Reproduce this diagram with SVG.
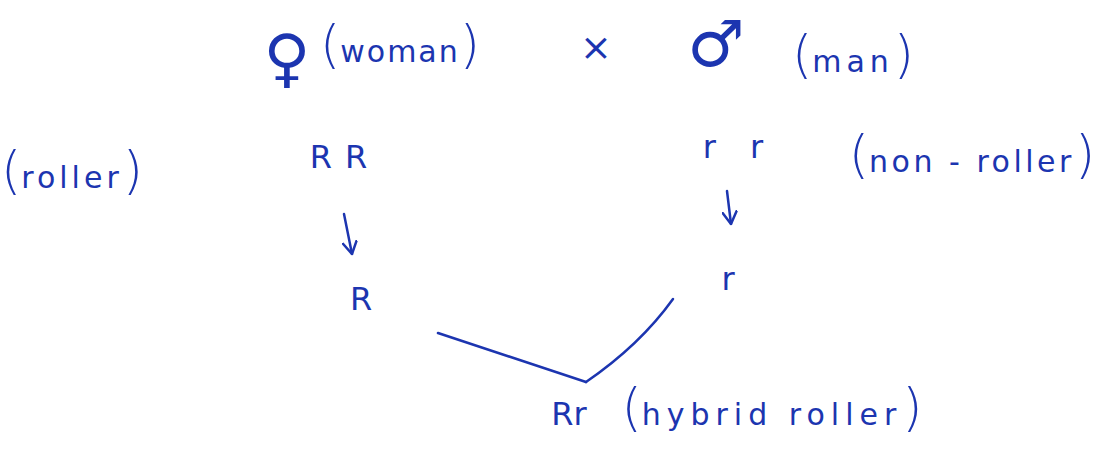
<svg xmlns="http://www.w3.org/2000/svg" width="1107" height="456" viewBox="0 0 1107 456">
<style>
text{font-family:"DejaVu Sans","Liberation Sans",sans-serif;fill:#1c35b0;}
.lbl{font-size:30px;}
.par{font-size:52px;font-weight:200;}
.gen{font-size:32px;}
.sym{font-size:64px;}
.ln{fill:none;stroke:#1c35b0;stroke-width:2.5;stroke-linecap:round;}
</style>
<defs>
<marker id="ah" viewBox="0 0 14 16" refX="13" refY="8" markerWidth="14" markerHeight="16" orient="auto" markerUnits="userSpaceOnUse">
<path d="M1,1 L13,8 L1,15" fill="none" stroke="#1c35b0" stroke-width="2.5" stroke-linecap="round"/>
</marker>
</defs>
<rect width="1107" height="456" fill="#ffffff"/>
<g id="woman">
<text class="sym" x="287" y="80" text-anchor="middle">♀</text>
<text x="400" y="62" text-anchor="middle"><tspan class="par">(</tspan><tspan class="lbl" letter-spacing="2">woman</tspan><tspan class="par">)</tspan></text>
</g>
<g id="cross">
<text x="596" y="60" font-size="38" text-anchor="middle">×</text>
</g>
<g id="man">
<text class="sym" x="716" y="66" text-anchor="middle">♂</text>
<text x="853" y="72" text-anchor="middle"><tspan class="par">(</tspan><tspan class="lbl" letter-spacing="5">man</tspan><tspan class="par">)</tspan></text>
</g>
<g id="roller-label">
<text x="72" y="188" text-anchor="middle"><tspan class="par">(</tspan><tspan class="lbl" letter-spacing="4">roller</tspan><tspan class="par">)</tspan></text>
</g>
<g id="RR">
<text class="gen" x="345" y="168" text-anchor="middle" letter-spacing="13">RR</text>
</g>
<g id="rr">
<text class="gen" x="739" y="158" text-anchor="middle" letter-spacing="12">r r</text>
</g>
<g id="nonroller-label">
<text x="972" y="172" text-anchor="middle"><tspan class="par">(</tspan><tspan class="lbl" letter-spacing="3.5">non - roller</tspan><tspan class="par">)</tspan></text>
</g>
<g id="R">
<text class="gen" x="361" y="310" text-anchor="middle">R</text>
</g>
<g id="r">
<text class="gen" x="728" y="290" text-anchor="middle">r</text>
</g>
<g id="Rr">
<text class="gen" x="569" y="425" text-anchor="middle">Rr</text>
<text x="772" y="425" text-anchor="middle"><tspan class="par" font-size="58">(</tspan><tspan class="lbl" letter-spacing="6">hybrid roller</tspan><tspan class="par" font-size="58">)</tspan></text>
</g>
<g id="connectors">
<path class="ln" d="M344,214 L352,254" marker-end="url(#ah)"/>
<path class="ln" d="M727,191 L731,224" marker-end="url(#ah)"/>
<path class="ln" d="M438,333 L586,382"/>
<path class="ln" d="M586,382 Q640,345 673,299"/>
</g>
</svg>
